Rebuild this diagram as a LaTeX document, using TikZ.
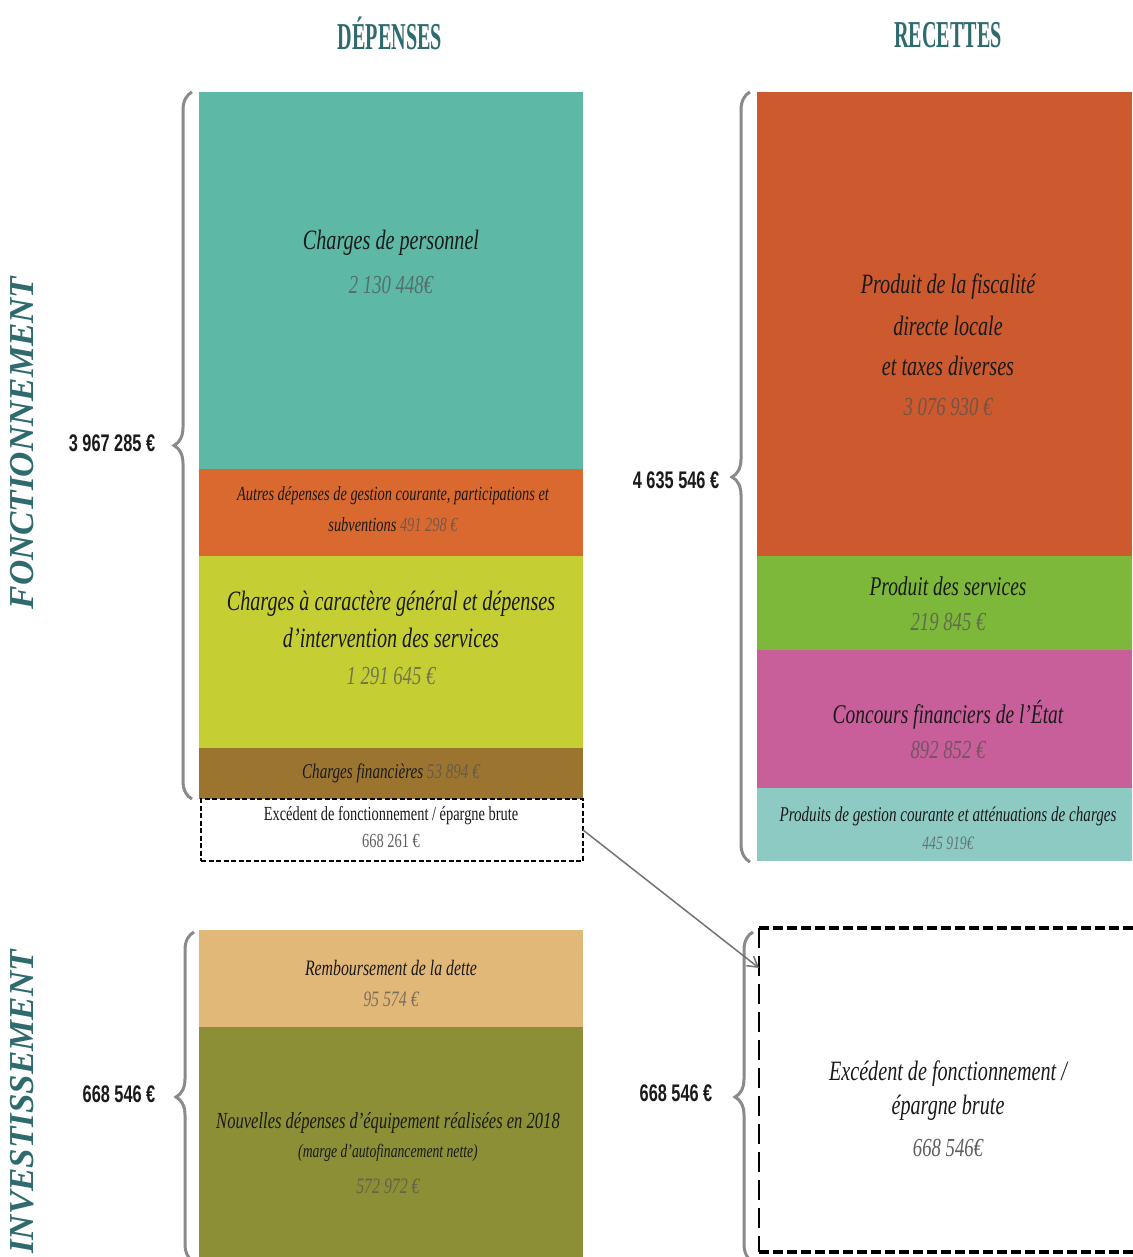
\documentclass[tikz,border=0pt]{standalone}
\usepackage{fontspec}
\setmainfont{Liberation Serif}
\newfontfamily\cond[FakeStretch=0.72]{Liberation Serif}
\newfontfamily\headf[FakeStretch=0.53]{Liberation Serif}
\newfontfamily\amtf[FakeStretch=0.68]{Liberation Sans}
\usetikzlibrary{decorations.pathreplacing,arrows.meta}
\definecolor{headcol}{HTML}{2F6B6E}
\definecolor{cPers}{HTML}{5DB8A6}
\definecolor{cAutr}{HTML}{D9692E}
\definecolor{cGen}{HTML}{C5CF34}
\definecolor{cFin}{HTML}{9B7530}
\definecolor{cFisc}{HTML}{CC5A2E}
\definecolor{cServ}{HTML}{7DB83A}
\definecolor{cConc}{HTML}{C95F9A}
\definecolor{cGest}{HTML}{8ECAC4}
\definecolor{cRemb}{HTML}{E2B878}
\definecolor{cNouv}{HTML}{8C8F35}
\definecolor{txt}{HTML}{1A1A1A}
\definecolor{bracecol}{HTML}{8A8A8A}
\definecolor{numgray}{HTML}{505050}
\newcommand\amt[2]{{\color{numgray!70!#1}#2}}
\newcommand\fsz[1]{\fontsize{#1}{#1}\selectfont}
\begin{document}
\begin{tikzpicture}[x=1pt,y=-1pt,
  blk/.style={inner sep=0pt, outer sep=0pt, minimum width=#1},
  lbl/.style={inner sep=0pt, text=txt, font=\cond\itshape},
  head/.style={inner sep=0pt, text=headcol, font=\headf\bfseries\fsz{38}},
  side/.style={inner sep=0pt, text=headcol, font=\bfseries\itshape\fsz{35}, rotate=90},
  total/.style={inner sep=0pt, text=txt, font=\amtf\bfseries\fsz{24}},
  brc/.style={draw=bracecol, line width=3pt, decorate, decoration={brace, amplitude=#1}},
  topdash/.style={line width=4.5pt, dash pattern=on 10pt off 4pt},
  sidedash/.style={line width=2.5pt, dash pattern=on 20pt off 8pt}]
\useasboundingbox[fill=white] (0,0) rectangle (1132,1257);

% headings
\node[head] (hdep) at (390,33) {DÉPENSES};
\node[head] (hrec) at (948,35) {RECETTES};
\node[side] (sfonc) at (22,443) {FONCTIONNEMENT};
\node[side] (sinv) at (22,1102) {INVESTISSEMENT};

% left column (fonctionnement)
\node[blk=384pt, fill=cPers, minimum height=377pt] (pers) at (391,280.5) {};
\node[blk=384pt, fill=cAutr, minimum height=87pt] (autr) at (391,512.5) {};
\node[blk=384pt, fill=cGen, minimum height=192pt] (gen) at (391,652) {};
\node[blk=384pt, fill=cFin, minimum height=51pt] (fin) at (391,773.5) {};
\node[blk=382pt, minimum height=62pt, draw=black, line width=1.3pt, dash pattern=on 5pt off 2.5pt] (exc) at (392,830) {};

\node[lbl, font=\cond\itshape\fsz{28}] (t1a) at (391,243) {Charges de personnel};
\node[lbl, font=\cond\itshape\fsz{26}] (t1b) at (391,285) {\amt{cPers}{2 130 448€}};
\node[lbl, font=\cond\itshape\fsz{20}] (t2a) at (393,496) {Autres dépenses de gestion courante, participations et};
\node[lbl, font=\cond\itshape\fsz{20}] (t2b) at (393,525) {subventions \amt{cAutr}{491 298 €}};
\node[lbl, font=\cond\itshape\fsz{28}] (t3a) at (391,604) {Charges à caractère général et dépenses};
\node[lbl, font=\cond\itshape\fsz{28}] (t3b) at (391,638) {d’intervention des services};
\node[lbl, font=\cond\itshape\fsz{26}] (t3c) at (391,676) {\amt{cGen}{1 291 645 €}};
\node[lbl, font=\cond\itshape\fsz{21}] (t4) at (391,773) {Charges financières \amt{cFin}{53 894 €}};
\node[lbl, font=\cond\fsz{20}] (t5a) at (391,816) {Excédent de fonctionnement / épargne brute};
\node[lbl, font=\cond\fsz{20}] (t5b) at (391,841) {\amt{gray}{668 261 €}};

% right column (fonctionnement)
\node[blk=375pt, fill=cFisc, minimum height=464pt] (fisc) at (944.5,324) {};
\node[blk=375pt, fill=cServ, minimum height=94pt] (serv) at (944.5,603) {};
\node[blk=375pt, fill=cConc, minimum height=138pt] (conc) at (944.5,719) {};
\node[blk=375pt, fill=cGest, minimum height=73pt] (gest) at (944.5,824.5) {};

\node[lbl, font=\cond\itshape\fsz{28}] (r1a) at (948,287) {Produit de la fiscalité};
\node[lbl, font=\cond\itshape\fsz{28}] (r1b) at (948,326) {directe locale};
\node[lbl, font=\cond\itshape\fsz{28}] (r1c) at (948,366) {et taxes diverses};
\node[lbl, font=\cond\itshape\fsz{26}] (r1d) at (948,407) {\amt{cFisc}{3 076 930 €}};
\node[lbl, font=\cond\itshape\fsz{27}] (r2a) at (948,586) {Produit des services};
\node[lbl, font=\cond\itshape\fsz{26}] (r2b) at (948,622) {\amt{cServ}{219 845 €}};
\node[lbl, font=\cond\itshape\fsz{27}] (r3a) at (948,715) {Concours financiers de l’État};
\node[lbl, font=\cond\itshape\fsz{26}] (r3b) at (948,750) {\amt{cConc}{892 852 €}};
\node[lbl, font=\cond\itshape\fsz{21}] (r4a) at (948,816) {Produits de gestion courante et atténuations de charges};
\node[lbl, font=\cond\itshape\fsz{19}] (r4b) at (948,843) {\amt{cGest}{445 919€}};

% investissement
\node[blk=384pt, fill=cRemb, minimum height=97pt] (remb) at (391,978.5) {};
\node[blk=384pt, fill=cNouv, minimum height=230pt] (nouv) at (391,1142) {};
\node[lbl, font=\cond\itshape\fsz{22}] (i1a) at (391,968) {Remboursement de la dette};
\node[lbl, font=\cond\itshape\fsz{22}] (i1b) at (391,999) {\amt{cRemb}{95 574 €}};
\node[lbl, font=\cond\itshape\fsz{23}] (i2a) at (388,1123) {Nouvelles dépenses d’équipement réalisées en 2018};
\node[lbl, font=\cond\itshape\fsz{19}] (i2b) at (388,1153) {(marge d’autofinancement nette)};
\node[lbl, font=\cond\itshape\fsz{22}] (i2c) at (388,1186) {\amt{cNouv}{572 972 €}};

\node[blk=378pt, minimum height=324pt] (exc2) at (948,1090) {};
\draw[topdash] (exc2.north west) -- (exc2.north east);
\draw[topdash] (exc2.south west) -- (exc2.south east);
\draw[sidedash] (exc2.north west) -- (exc2.south west);
\node[lbl, font=\cond\itshape\fsz{28}] (e1a) at (948,1074) {Excédent de fonctionnement /};
\node[lbl, font=\cond\itshape\fsz{28}] (e1b) at (948,1108) {épargne brute};
\node[lbl, font=\cond\itshape\fsz{26}] (e1c) at (948,1148) {\amt{gray}{668 546€}};

% braces
\coordinate (b1s) at (192,799); \coordinate (b1e) at (192,92);
\coordinate (b2s) at (750,862); \coordinate (b2e) at (750,92);
\coordinate (b3s) at (194,1262); \coordinate (b3e) at (194,932);
\coordinate (b4s) at (753,1262); \coordinate (b4e) at (753,932);
\draw[brc=18pt] (b1s) -- (b1e);
\draw[brc=18pt] (b2s) -- (b2e);
\draw[brc=18pt] (b3s) -- (b3e);
\draw[brc=18pt] (b4s) -- (b4e);
\node[total] (tot1) at (112,443) {3 967 285 €};
\node[total] (tot2) at (676,480) {4 635 546 €};
\node[total] (tot3) at (119,1094) {668 546 €};
\node[total] (tot4) at (676,1093) {668 546 €};

% arrow
\coordinate (arrend) at (759,968);
\draw[draw=black!55, line width=1.5pt, -{Straight Barb[length=10pt,width=12pt]}] (exc.east) -- (arrend);
\end{tikzpicture}
\end{document}
